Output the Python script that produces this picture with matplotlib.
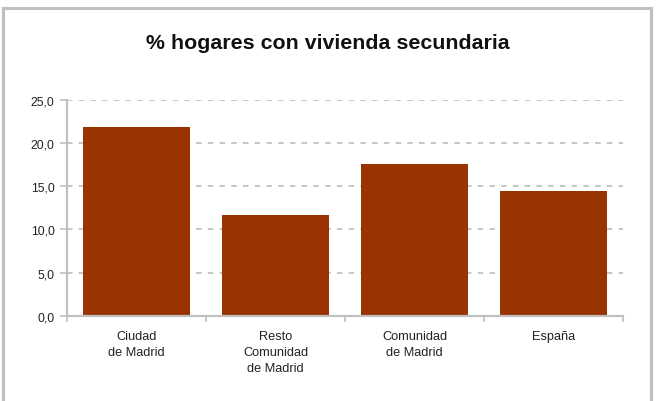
import matplotlib.pyplot as plt
from matplotlib.patches import Rectangle
from matplotlib.ticker import FixedLocator, FuncFormatter
import numpy as np

plt.rcParams['font.family'] = ['Liberation Sans', 'DejaVu Sans']

categories = ["Ciudad\nde Madrid", "Resto\nComunidad\nde Madrid",
              "Comunidad\nde Madrid", "España"]
values = [21.8, 11.6, 17.6, 14.4]
yticks = [0, 5, 10, 15, 20, 25]

bar_color = '#993300'
gray = '#c0c0c0'

fig = plt.figure(figsize=(6.56, 4.02), dpi=100)
fig.patch.set_facecolor('white')

# outer frame of the chart area
fig.patches.append(Rectangle((3 / 656, -0.05), 648 / 656, 1 - 9 / 402 + 0.05,
                             transform=fig.transFigure, fill=False,
                             edgecolor=gray, linewidth=2.2))

ax = fig.add_axes([67 / 656, 85.3 / 402, 556 / 656, 216 / 402])
x = np.arange(len(categories))
ax.bar(x, values, width=0.77, color=bar_color, zorder=3)

ax.set_xlim(-0.5, len(categories) - 0.5)
ax.set_ylim(0, 25)
ax.set_yticks(yticks)
ax.yaxis.set_major_formatter(FuncFormatter(lambda v, p: f"{v:.1f}".replace('.', ',')))
ax.set_xticks(x)
ax.set_xticklabels(categories, fontsize=9.2, linespacing=1.45, va='top')
ax.xaxis.set_minor_locator(FixedLocator(np.arange(-0.5, len(categories), 1)))

ax.tick_params(axis='x', which='major', length=0, pad=10, colors='#222222')
ax.tick_params(axis='x', which='minor', length=4, width=1.2, color=gray, direction='out')
ax.tick_params(axis='y', length=5, width=1.2, color=gray, labelsize=8.8, labelcolor='#222222', pad=4)

for s in ['top', 'right']:
    ax.spines[s].set_visible(False)
for s in ['left', 'bottom']:
    ax.spines[s].set_color(gray)
    ax.spines[s].set_linewidth(1.6)
    ax.spines[s].set_zorder(4)

ax.yaxis.grid(True, color=gray, linestyle=(0, (3, 3.5)), linewidth=1.3, zorder=0)
ax.set_axisbelow(True)

fig.text(0.5, 0.893, "% hogares con vivienda secundaria", ha='center', va='center',
         fontsize=15.4, fontweight='bold', color='#111111')

fig.savefig('out.png', dpi=100, facecolor='white')
